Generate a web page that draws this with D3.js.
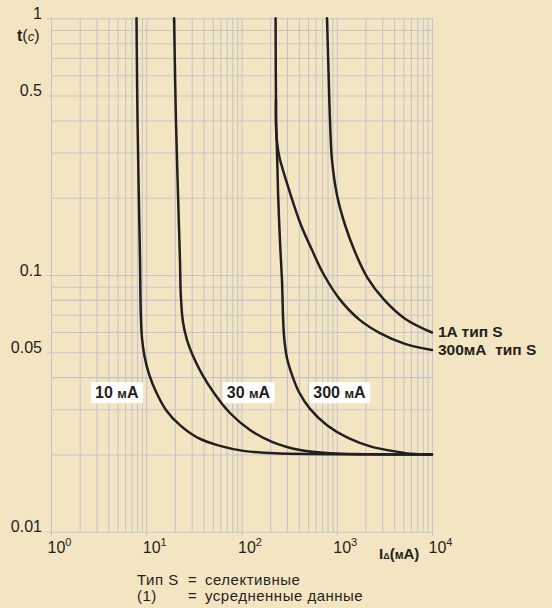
<!DOCTYPE html>
<html>
<head>
<meta charset="utf-8">
<script src="https://cdn.jsdelivr.net/npm/d3@7"></script>
<style>
  body { margin: 0; background: #f4e5c2; }
  svg { display: block; font-family: "Liberation Sans", Arial, sans-serif; }
</style>
</head>
<body>
<script>
// ток I (мА) и время t (с)
const i10 = [7.9, 8.1, 8.6, 8.77, 9.02, 9.58, 10.7, 12.7, 16.1, 22.6, 34.9, 59.5, 108.8, 225, 10000];
const t10 = [1, 0.4, 0.114, 0.0699, 0.0568, 0.0484, 0.0411, 0.035, 0.0298, 0.026, 0.0232, 0.0216, 0.0206, 0.0202, 0.02];

const i30 = [19.6, 20.5, 22.6, 23.05, 24.3, 26.8, 31.0, 38.5, 51.4, 75.7, 122.8, 209, 411, 849, 10000];
const t30 = [1, 0.4, 0.114, 0.0836, 0.0656, 0.0558, 0.0484, 0.0411, 0.0347, 0.029, 0.0249, 0.0224, 0.0208, 0.0202, 0.02];

const i300 = [228, 231, 236, 242, 254, 266, 279, 300, 339, 401, 524, 790, 1313, 2344, 4613, 6000, 10000];
const t300 = [1, 0.4, 0.3, 0.209, 0.133, 0.0956, 0.0584, 0.0475, 0.0408, 0.035, 0.0301, 0.026, 0.0232, 0.0214, 0.0204, 0.0201, 0.02];

const i300s = [230, 231, 242, 254, 323, 421, 550, 735, 1082, 1754, 2844, 5207, 10000];
const t300s = [0.48, 0.367, 0.307, 0.281, 0.209, 0.1566, 0.1251, 0.1, 0.0802, 0.0667, 0.0594, 0.0539, 0.051];

const i1as = [790, 819, 849, 891, 1006, 1222, 1556, 2078, 3133, 5207, 10000];
const t1as = [1, 0.629, 0.402, 0.281, 0.205, 0.1566, 0.1229, 0.0982, 0.0802, 0.0676, 0.0597];

const yTicks = [1, 0.5, 0.1, 0.05, 0.01];
const yTickText = ['1', '0.5', '0.1', '0.05', '0.01'];
const xTicks = [1, 10, 100, 1000, 10000];
const xTickExp = ['0', '1', '2', '3', '4'];

const tagText = ['10', '30', '300'];
const tagX = [2.9, 70, 567];
const endText = ['1A тип S', '300мА  тип S'];

const width = 552, height = 608;
const ink = '#231f20', gridColor = '#c4c5cc';

const svg = d3.select('body').append('svg')
  .attr('width', width)
  .attr('height', height);

// шкалы
const x = d3.scaleLog().domain([1, 10000]).range([51, 432]);
const y = d3.scaleLog().domain([0.01, 1]).range([531.7, 18.3]);

// сетка
svg.append('g')
  .attr('transform', `translate(0,${y(0.01)})`)
  .call(d3.axisBottom(x).tickValues(x.ticks()).tickSize(-(y(0.01) - y(1))).tickFormat(''))
  .call(g => g.select('.domain').remove())
  .call(g => g.selectAll('line').attr('stroke', gridColor).attr('stroke-width', 1.1));

svg.append('g')
  .attr('transform', `translate(${x(1)},0)`)
  .call(d3.axisLeft(y).tickValues(y.ticks()).tickSize(-(x(10000) - x(1))).tickFormat(''))
  .call(g => g.select('.domain').remove())
  .call(g => g.selectAll('line').attr('stroke', gridColor).attr('stroke-width', 1.1));

// ось Y
svg.append('g')
  .attr('transform', `translate(${x(1)},0)`)
  .call(d3.axisLeft(y).tickValues(yTicks).tickSize(4).tickFormat((d, i) => yTickText[i]))
  .call(g => g.select('.domain').remove())
  .call(g => g.selectAll('line').attr('stroke', gridColor).attr('stroke-width', 1.1))
  .call(g => g.selectAll('text')
    .attr('x', -9).attr('dy', '0')
    .attr('fill', ink)
    .style('font-size', '16px')
    .style('font-family', '"Liberation Sans", Arial, sans-serif'));

// ось X
const xAxis = svg.append('g')
  .attr('transform', `translate(0,${y(0.01)})`)
  .call(d3.axisBottom(x).tickValues(xTicks).tickSize(4).tickFormat(''))
  .call(g => g.select('.domain').remove())
  .call(g => g.selectAll('line').attr('stroke', gridColor).attr('stroke-width', 1.1));

xAxis.selectAll('.tick').each(function (d, i) {
  const t = d3.select(this).append('text')
    .attr('x', -4).attr('y', 21)
    .attr('text-anchor', 'start')
    .attr('fill', ink)
    .style('font-size', '16px')
    .style('font-family', '"Liberation Sans", Arial, sans-serif');
  t.append('tspan').text('10');
  t.append('tspan').attr('dy', -7).style('font-size', '11px').text(xTickExp[i]);
});

// подписи осей
const yLab = svg.append('text')
  .attr('x', 17).attr('y', 41)
  .attr('fill', ink)
  .style('font-size', '16px');
yLab.append('tspan').style('font-weight', 'bold').text('t');
yLab.append('tspan').text('(');
yLab.append('tspan').style('font-style', 'italic').style('font-size', '13px').text('c');
yLab.append('tspan').text(')');

const xLab = svg.append('text')
  .attr('x', 379).attr('y', 559)
  .attr('fill', ink)
  .style('font-size', '15px')
  .style('font-weight', 'bold');
xLab.append('tspan').text('I');
xLab.append('tspan').style('font-size', '9px').text('Δ');
xLab.append('tspan').text('(');
xLab.append('tspan').style('font-size', '12px').text('м');
xLab.append('tspan').text('А)');

// кривые
const line = d3.line()
  .x(d => x(d[0]))
  .y(d => y(d[1]))
  .curve(d3.curveCatmullRom.alpha(0.5));

const curves = [[i10, t10], [i30, t30], [i300, t300], [i300s, t300s], [i1as, t1as]];
svg.append('g')
  .selectAll('path')
  .data(curves)
  .join('path')
  .attr('d', c => line(d3.zip(c[0], c[1])))
  .attr('fill', 'none')
  .attr('stroke', ink)
  .attr('stroke-width', 2.5)
  .attr('stroke-linejoin', 'round')
  .attr('stroke-linecap', 'round');

// подписи у концов кривых
const ends = [t1as[t1as.length - 1], t300s[t300s.length - 1]];
svg.append('g')
  .selectAll('text')
  .data(endText)
  .join('text')
  .attr('x', x(10000) + 6)
  .attr('y', (d, i) => y(ends[i]) + 4.5)
  .attr('fill', ink)
  .style('font-size', '15.5px')
  .style('font-weight', 'bold')
  .style('white-space', 'pre')
  .text(d => d);

// метки в белых рамках
const tagY = y(0.0331);
tagText.forEach((s, i) => {
  const g = svg.append('g');
  const rect = g.append('rect').attr('fill', 'white');
  const t = g.append('text')
    .attr('x', x(tagX[i])).attr('y', tagY)
    .attr('fill', ink)
    .style('font-size', '16px')
    .style('font-weight', 'bold');
  t.append('tspan').text(s + ' ');
  t.append('tspan').style('font-size', '13px').text('м');
  t.append('tspan').text('А');
  const b = t.node().getBBox();
  rect.attr('x', b.x - 4).attr('y', tagY - 16)
    .attr('width', b.width + 8).attr('height', 21);
});

// пояснения внизу
const notesL = ['Тип S', '(1)'];
const notesR = ['селективные', 'усредненные данные'];
const notes = svg.append('g')
  .attr('fill', ink)
  .style('font-size', '15px')
  .style('letter-spacing', '0.5px');
notesL.forEach((s, i) => {
  notes.append('text').attr('x', 137).attr('y', 585 + i * 16).text(s);
  notes.append('text').attr('x', 188).attr('y', 585 + i * 16).text('=');
  notes.append('text').attr('x', 205).attr('y', 585 + i * 16).text(notesR[i]);
});
</script>
</body>
</html>
